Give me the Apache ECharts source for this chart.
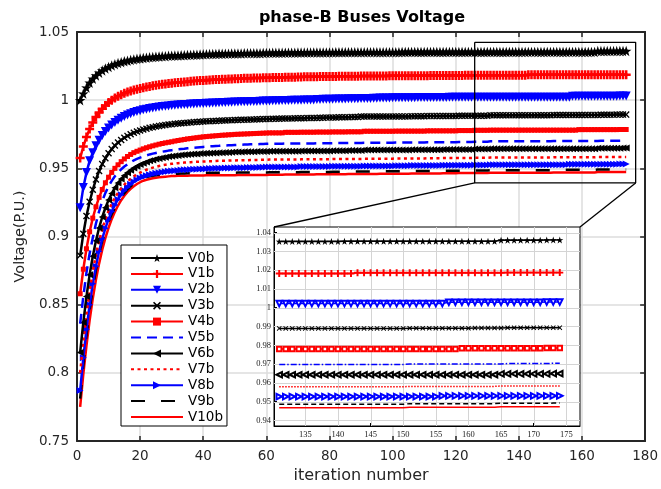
<!DOCTYPE html>
<html><head><meta charset="utf-8">
<script src="https://cdn.jsdelivr.net/npm/echarts@6/dist/echarts.min.js"></script>
<style>html,body{margin:0;padding:0;background:#fff}#c{width:661px;height:489px}</style>
</head><body><div id="c"></div>
<script>
// ---------------- data ----------------
const iterations = Array.from({length: 174}, (_, k) => k + 1);
const seriesNames = ['V0b','V1b','V2b','V3b','V4b','V5b','V6b','V7b','V8b','V9b','V10b'];

const V0b = [
1.0000,1.0048,1.0092,1.0128,1.0157,1.0181,1.0201,1.0218,1.0232,1.0244,
1.0255,1.0264,1.0272,1.0279,1.0285,1.0290,1.0295,1.0299,1.0303,1.0306,
1.0309,1.0312,1.0314,1.0316,1.0318,1.0320,1.0322,1.0323,1.0325,1.0326,
1.0327,1.0328,1.0329,1.0330,1.0331,1.0332,1.0333,1.0334,1.0335,1.0336,
1.0337,1.0338,1.0338,1.0339,1.0340,1.0340,1.0341,1.0341,1.0342,1.0342,
1.0343,1.0343,1.0344,1.0344,1.0344,1.0345,1.0345,1.0345,1.0346,1.0346,
1.0346,1.0347,1.0347,1.0347,1.0347,1.0348,1.0348,1.0348,1.0348,1.0349,
1.0349,1.0349,1.0349,1.0349,1.0350,1.0350,1.0350,1.0350,1.0350,1.0350,
1.0350,1.0351,1.0351,1.0351,1.0351,1.0351,1.0351,1.0351,1.0352,1.0352,
1.0352,1.0352,1.0352,1.0352,1.0352,1.0352,1.0352,1.0352,1.0352,1.0352,
1.0352,1.0352,1.0353,1.0353,1.0353,1.0353,1.0353,1.0353,1.0353,1.0353,
1.0353,1.0353,1.0353,1.0353,1.0353,1.0353,1.0353,1.0353,1.0353,1.0353,
1.0353,1.0353,1.0353,1.0353,1.0353,1.0353,1.0353,1.0353,1.0353,1.0353,
1.0353,1.0353,1.0353,1.0353,1.0353,1.0353,1.0353,1.0353,1.0353,1.0353,
1.0354,1.0354,1.0354,1.0354,1.0354,1.0354,1.0354,1.0354,1.0354,1.0354,
1.0354,1.0354,1.0354,1.0354,1.0354,1.0354,1.0354,1.0354,1.0354,1.0354,
1.0354,1.0354,1.0354,1.0354,1.0360,1.0360,1.0360,1.0360,1.0360,1.0360,
1.0360,1.0361,1.0361,1.0361];

const V1b = [
0.9575,0.9660,0.9730,0.9788,0.9836,0.9876,0.9909,0.9937,0.9961,0.9982,
1.0000,1.0015,1.0028,1.0040,1.0050,1.0059,1.0067,1.0074,1.0080,1.0086,
1.0091,1.0096,1.0101,1.0105,1.0109,1.0113,1.0116,1.0119,1.0122,1.0125,
1.0127,1.0130,1.0132,1.0134,1.0136,1.0138,1.0140,1.0142,1.0144,1.0145,
1.0147,1.0148,1.0149,1.0151,1.0152,1.0153,1.0154,1.0155,1.0156,1.0157,
1.0158,1.0159,1.0160,1.0160,1.0161,1.0162,1.0163,1.0163,1.0164,1.0165,
1.0165,1.0166,1.0166,1.0167,1.0167,1.0168,1.0168,1.0169,1.0169,1.0170,
1.0170,1.0171,1.0171,1.0171,1.0172,1.0172,1.0173,1.0173,1.0173,1.0174,
1.0174,1.0174,1.0175,1.0175,1.0175,1.0176,1.0176,1.0176,1.0176,1.0177,
1.0177,1.0177,1.0177,1.0178,1.0178,1.0178,1.0178,1.0178,1.0179,1.0179,
1.0179,1.0179,1.0179,1.0179,1.0180,1.0180,1.0180,1.0180,1.0180,1.0180,
1.0180,1.0181,1.0181,1.0181,1.0181,1.0181,1.0181,1.0181,1.0181,1.0181,
1.0181,1.0181,1.0182,1.0182,1.0182,1.0182,1.0182,1.0182,1.0182,1.0182,
1.0182,1.0182,1.0182,1.0182,1.0182,1.0182,1.0182,1.0182,1.0182,1.0182,
1.0182,1.0182,1.0186,1.0186,1.0186,1.0186,1.0186,1.0186,1.0186,1.0186,
1.0186,1.0186,1.0186,1.0186,1.0186,1.0186,1.0186,1.0186,1.0186,1.0186,
1.0186,1.0186,1.0186,1.0186,1.0186,1.0187,1.0187,1.0187,1.0187,1.0187,
1.0187,1.0187,1.0187,1.0187];

const V2b = [
0.9210,0.9360,0.9470,0.9555,0.9615,0.9665,0.9706,0.9741,0.9771,0.9796,
0.9818,0.9837,0.9853,0.9867,0.9880,0.9891,0.9900,0.9909,0.9916,0.9923,
0.9929,0.9934,0.9939,0.9943,0.9947,0.9950,0.9953,0.9956,0.9958,0.9960,
0.9962,0.9964,0.9966,0.9968,0.9969,0.9971,0.9972,0.9973,0.9975,0.9976,
0.9977,0.9978,0.9979,0.9980,0.9981,0.9982,0.9983,0.9984,0.9985,0.9986,
0.9987,0.9988,0.9988,0.9989,0.9990,0.9991,0.9991,0.9992,0.9993,0.9994,
0.9994,0.9995,0.9996,0.9996,0.9997,0.9998,0.9998,0.9999,0.9999,1.0000,
1.0000,1.0001,1.0001,1.0002,1.0002,1.0005,1.0005,1.0006,1.0006,1.0007,
1.0007,1.0008,1.0008,1.0009,1.0009,1.0010,1.0010,1.0011,1.0011,1.0012,
1.0012,1.0013,1.0013,1.0014,1.0014,1.0015,1.0015,1.0016,1.0016,1.0017,
1.0017,1.0017,1.0017,1.0018,1.0018,1.0018,1.0018,1.0019,1.0019,1.0019,
1.0019,1.0019,1.0019,1.0020,1.0020,1.0020,1.0020,1.0021,1.0021,1.0021,
1.0021,1.0021,1.0021,1.0021,1.0021,1.0022,1.0022,1.0022,1.0022,1.0022,
1.0022,1.0022,1.0022,1.0022,1.0022,1.0022,1.0022,1.0022,1.0022,1.0022,
1.0022,1.0022,1.0022,1.0022,1.0022,1.0022,1.0022,1.0022,1.0022,1.0022,
1.0022,1.0022,1.0022,1.0022,1.0022,1.0022,1.0029,1.0029,1.0029,1.0029,
1.0029,1.0029,1.0029,1.0029,1.0029,1.0029,1.0029,1.0029,1.0029,1.0029,
1.0029,1.0030,1.0030,1.0030];

const V3b = [
0.8860,0.9020,0.9150,0.9255,0.9343,0.9418,0.9480,0.9531,0.9574,0.9610,
0.9641,0.9667,0.9689,0.9708,0.9724,0.9738,0.9750,0.9761,0.9770,0.9778,
0.9785,0.9791,0.9797,0.9802,0.9807,0.9811,0.9815,0.9818,0.9821,0.9824,
0.9827,0.9829,0.9831,0.9833,0.9835,0.9837,0.9839,0.9840,0.9842,0.9843,
0.9845,0.9846,0.9847,0.9848,0.9849,0.9850,0.9851,0.9852,0.9853,0.9854,
0.9855,0.9856,0.9857,0.9857,0.9858,0.9859,0.9860,0.9860,0.9861,0.9862,
0.9862,0.9863,0.9864,0.9864,0.9865,0.9865,0.9866,0.9866,0.9867,0.9867,
0.9868,0.9868,0.9869,0.9869,0.9870,0.9870,0.9871,0.9871,0.9872,0.9872,
0.9873,0.9873,0.9874,0.9874,0.9875,0.9875,0.9876,0.9876,0.9877,0.9880,
0.9880,0.9880,0.9880,0.9880,0.9880,0.9880,0.9880,0.9880,0.9880,0.9880,
0.9881,0.9881,0.9881,0.9881,0.9881,0.9882,0.9882,0.9882,0.9882,0.9882,
0.9883,0.9883,0.9883,0.9883,0.9883,0.9884,0.9884,0.9884,0.9884,0.9884,
0.9885,0.9885,0.9885,0.9885,0.9885,0.9886,0.9886,0.9886,0.9886,0.9886,
0.9890,0.9890,0.9890,0.9890,0.9890,0.9890,0.9890,0.9890,0.9890,0.9890,
0.9890,0.9890,0.9890,0.9890,0.9890,0.9890,0.9890,0.9890,0.9890,0.9890,
0.9891,0.9891,0.9891,0.9891,0.9891,0.9891,0.9891,0.9891,0.9891,0.9891,
0.9892,0.9892,0.9892,0.9892,0.9892,0.9893,0.9893,0.9893,0.9893,0.9893,
0.9894,0.9894,0.9894,0.9894];

const V4b = [
0.8580,0.8760,0.8910,0.9035,0.9135,0.9218,0.9287,0.9345,0.9394,0.9435,
0.9470,0.9500,0.9526,0.9549,0.9569,0.9587,0.9602,0.9615,0.9625,0.9634,
0.9643,0.9651,0.9658,0.9665,0.9671,0.9677,0.9682,0.9687,0.9691,0.9695,
0.9700,0.9704,0.9708,0.9712,0.9716,0.9719,0.9722,0.9725,0.9728,0.9731,
0.9733,0.9735,0.9737,0.9739,0.9741,0.9743,0.9744,0.9746,0.9747,0.9749,
0.9750,0.9751,0.9752,0.9753,0.9754,0.9755,0.9756,0.9757,0.9758,0.9759,
0.9760,0.9760,0.9760,0.9760,0.9760,0.9764,0.9764,0.9764,0.9764,0.9764,
0.9765,0.9765,0.9765,0.9765,0.9765,0.9766,0.9766,0.9766,0.9766,0.9766,
0.9767,0.9767,0.9767,0.9767,0.9767,0.9768,0.9768,0.9768,0.9768,0.9768,
0.9772,0.9772,0.9772,0.9772,0.9772,0.9772,0.9772,0.9772,0.9772,0.9772,
0.9773,0.9773,0.9773,0.9773,0.9773,0.9773,0.9773,0.9773,0.9773,0.9773,
0.9775,0.9775,0.9775,0.9775,0.9775,0.9775,0.9775,0.9775,0.9775,0.9775,
0.9777,0.9777,0.9777,0.9777,0.9777,0.9779,0.9779,0.9779,0.9779,0.9779,
0.9780,0.9780,0.9780,0.9780,0.9780,0.9780,0.9780,0.9780,0.9780,0.9780,
0.9780,0.9780,0.9780,0.9780,0.9780,0.9780,0.9780,0.9780,0.9780,0.9780,
0.9780,0.9780,0.9780,0.9780,0.9780,0.9780,0.9780,0.9780,0.9784,0.9784,
0.9784,0.9784,0.9784,0.9784,0.9784,0.9784,0.9784,0.9784,0.9784,0.9784,
0.9784,0.9785,0.9785,0.9785];

const V5b = [
0.8360,0.8560,0.8735,0.8875,0.8990,0.9095,0.9185,0.9260,0.9320,0.9368,
0.9408,0.9442,0.9470,0.9493,0.9513,0.9530,0.9545,0.9558,0.9569,0.9579,
0.9587,0.9595,0.9602,0.9608,0.9613,0.9618,0.9622,0.9626,0.9630,0.9633,
0.9636,0.9639,0.9642,0.9644,0.9647,0.9649,0.9651,0.9653,0.9655,0.9657,
0.9659,0.9661,0.9662,0.9664,0.9665,0.9667,0.9668,0.9669,0.9670,0.9671,
0.9672,0.9673,0.9674,0.9675,0.9676,0.9677,0.9677,0.9678,0.9679,0.9680,
0.9681,0.9681,0.9681,0.9681,0.9681,0.9682,0.9682,0.9682,0.9682,0.9682,
0.9683,0.9683,0.9683,0.9683,0.9683,0.9684,0.9684,0.9684,0.9684,0.9684,
0.9685,0.9685,0.9685,0.9685,0.9685,0.9686,0.9686,0.9686,0.9686,0.9686,
0.9687,0.9687,0.9687,0.9687,0.9687,0.9688,0.9688,0.9688,0.9688,0.9688,
0.9689,0.9689,0.9689,0.9689,0.9689,0.9690,0.9690,0.9690,0.9690,0.9690,
0.9691,0.9691,0.9691,0.9691,0.9691,0.9692,0.9692,0.9692,0.9692,0.9692,
0.9693,0.9693,0.9693,0.9693,0.9693,0.9695,0.9695,0.9695,0.9695,0.9695,
0.9698,0.9698,0.9698,0.9698,0.9698,0.9698,0.9698,0.9698,0.9698,0.9698,
0.9698,0.9698,0.9698,0.9698,0.9698,0.9698,0.9698,0.9698,0.9698,0.9698,
0.9700,0.9700,0.9700,0.9700,0.9700,0.9700,0.9700,0.9700,0.9700,0.9700,
0.9700,0.9700,0.9700,0.9700,0.9700,0.9703,0.9703,0.9703,0.9703,0.9703,
0.9703,0.9703,0.9704,0.9704];

const V6b = [
0.8150,0.8370,0.8560,0.8720,0.8855,0.8968,0.9063,0.9143,0.9211,0.9268,
0.9316,0.9357,0.9392,0.9422,0.9447,0.9468,0.9486,0.9502,0.9516,0.9528,
0.9538,0.9547,0.9555,0.9562,0.9568,0.9573,0.9578,0.9582,0.9586,0.9589,
0.9592,0.9595,0.9597,0.9599,0.9601,0.9603,0.9605,0.9606,0.9608,0.9609,
0.9610,0.9611,0.9612,0.9613,0.9614,0.9615,0.9616,0.9617,0.9618,0.9619,
0.9619,0.9620,0.9621,0.9621,0.9622,0.9622,0.9623,0.9623,0.9624,0.9624,
0.9625,0.9625,0.9625,0.9625,0.9625,0.9626,0.9626,0.9626,0.9626,0.9626,
0.9627,0.9627,0.9627,0.9627,0.9627,0.9628,0.9628,0.9628,0.9628,0.9628,
0.9629,0.9629,0.9629,0.9629,0.9629,0.9630,0.9630,0.9630,0.9630,0.9630,
0.9634,0.9634,0.9634,0.9634,0.9634,0.9634,0.9634,0.9634,0.9634,0.9634,
0.9635,0.9635,0.9635,0.9635,0.9635,0.9636,0.9636,0.9636,0.9636,0.9636,
0.9637,0.9637,0.9637,0.9637,0.9637,0.9638,0.9638,0.9638,0.9638,0.9638,
0.9639,0.9639,0.9639,0.9639,0.9639,0.9641,0.9641,0.9641,0.9641,0.9641,
0.9643,0.9643,0.9643,0.9643,0.9643,0.9643,0.9643,0.9643,0.9643,0.9643,
0.9643,0.9643,0.9643,0.9643,0.9643,0.9643,0.9643,0.9643,0.9643,0.9643,
0.9643,0.9643,0.9643,0.9643,0.9643,0.9643,0.9643,0.9643,0.9643,0.9643,
0.9643,0.9643,0.9643,0.9643,0.9648,0.9648,0.9648,0.9648,0.9648,0.9648,
0.9648,0.9648,0.9649,0.9649];

const V7b = [
0.8000,0.8230,0.8430,0.8600,0.8745,0.8866,0.8968,0.9054,0.9127,0.9189,
0.9241,0.9285,0.9322,0.9354,0.9381,0.9404,0.9424,0.9441,0.9456,0.9469,
0.9480,0.9490,0.9498,0.9505,0.9511,0.9517,0.9522,0.9526,0.9530,0.9533,
0.9536,0.9538,0.9540,0.9542,0.9544,0.9545,0.9547,0.9548,0.9549,0.9550,
0.9551,0.9552,0.9553,0.9554,0.9555,0.9556,0.9556,0.9557,0.9558,0.9558,
0.9559,0.9559,0.9560,0.9560,0.9561,0.9561,0.9562,0.9562,0.9563,0.9563,
0.9564,0.9564,0.9564,0.9564,0.9564,0.9565,0.9565,0.9565,0.9565,0.9565,
0.9566,0.9566,0.9566,0.9566,0.9566,0.9567,0.9567,0.9567,0.9567,0.9567,
0.9568,0.9568,0.9568,0.9568,0.9568,0.9569,0.9569,0.9569,0.9569,0.9569,
0.9570,0.9570,0.9570,0.9570,0.9570,0.9571,0.9571,0.9571,0.9571,0.9571,
0.9572,0.9572,0.9572,0.9572,0.9572,0.9573,0.9573,0.9573,0.9573,0.9573,
0.9574,0.9574,0.9574,0.9574,0.9574,0.9575,0.9575,0.9575,0.9575,0.9575,
0.9576,0.9576,0.9576,0.9576,0.9576,0.9577,0.9577,0.9577,0.9577,0.9577,
0.9579,0.9579,0.9579,0.9579,0.9579,0.9579,0.9579,0.9579,0.9579,0.9579,
0.9579,0.9579,0.9579,0.9579,0.9579,0.9579,0.9579,0.9579,0.9579,0.9579,
0.9581,0.9581,0.9581,0.9581,0.9581,0.9581,0.9581,0.9581,0.9581,0.9581,
0.9581,0.9581,0.9581,0.9581,0.9583,0.9583,0.9583,0.9583,0.9583,0.9583,
0.9583,0.9583,0.9583,0.9583];

const V8b = [
0.7870,0.8110,0.8320,0.8500,0.8653,0.8782,0.8891,0.8983,0.9061,0.9127,
0.9183,0.9231,0.9272,0.9307,0.9337,0.9362,0.9383,0.9401,0.9416,0.9429,
0.9438,0.9446,0.9453,0.9459,0.9464,0.9468,0.9472,0.9475,0.9478,0.9481,
0.9483,0.9485,0.9487,0.9489,0.9490,0.9492,0.9493,0.9494,0.9495,0.9496,
0.9497,0.9498,0.9499,0.9500,0.9501,0.9501,0.9502,0.9503,0.9503,0.9504,
0.9504,0.9505,0.9505,0.9506,0.9506,0.9507,0.9507,0.9508,0.9508,0.9509,
0.9509,0.9509,0.9509,0.9509,0.9509,0.9510,0.9510,0.9510,0.9510,0.9510,
0.9514,0.9514,0.9514,0.9514,0.9514,0.9514,0.9514,0.9514,0.9514,0.9514,
0.9515,0.9515,0.9515,0.9515,0.9515,0.9516,0.9516,0.9516,0.9516,0.9516,
0.9517,0.9517,0.9517,0.9517,0.9517,0.9518,0.9518,0.9518,0.9518,0.9518,
0.9519,0.9519,0.9519,0.9519,0.9519,0.9520,0.9520,0.9520,0.9520,0.9520,
0.9521,0.9521,0.9521,0.9521,0.9521,0.9522,0.9522,0.9522,0.9522,0.9522,
0.9523,0.9523,0.9523,0.9523,0.9523,0.9524,0.9524,0.9524,0.9524,0.9524,
0.9527,0.9527,0.9527,0.9527,0.9527,0.9527,0.9527,0.9527,0.9527,0.9527,
0.9527,0.9527,0.9527,0.9527,0.9527,0.9527,0.9527,0.9527,0.9527,0.9527,
0.9527,0.9527,0.9527,0.9527,0.9527,0.9530,0.9530,0.9530,0.9530,0.9530,
0.9530,0.9530,0.9530,0.9530,0.9530,0.9530,0.9530,0.9530,0.9530,0.9530,
0.9530,0.9531,0.9531,0.9531];

const V9b = [
0.7810,0.8060,0.8275,0.8460,0.8620,0.8755,0.8870,0.8967,0.9045,0.9110,
0.9163,0.9210,0.9251,0.9287,0.9318,0.9345,0.9368,0.9388,0.9405,0.9420,
0.9430,0.9437,0.9442,0.9446,0.9449,0.9452,0.9454,0.9456,0.9458,0.9459,
0.9460,0.9461,0.9462,0.9463,0.9464,0.9464,0.9465,0.9465,0.9466,0.9466,
0.9467,0.9467,0.9467,0.9467,0.9467,0.9468,0.9468,0.9468,0.9468,0.9468,
0.9469,0.9469,0.9469,0.9469,0.9469,0.9470,0.9470,0.9470,0.9470,0.9470,
0.9471,0.9471,0.9471,0.9471,0.9471,0.9472,0.9472,0.9472,0.9472,0.9472,
0.9473,0.9473,0.9473,0.9473,0.9473,0.9474,0.9474,0.9474,0.9474,0.9474,
0.9475,0.9475,0.9475,0.9475,0.9475,0.9476,0.9476,0.9476,0.9476,0.9476,
0.9477,0.9477,0.9477,0.9477,0.9477,0.9478,0.9478,0.9478,0.9478,0.9478,
0.9479,0.9479,0.9479,0.9479,0.9479,0.9480,0.9480,0.9480,0.9480,0.9480,
0.9481,0.9481,0.9481,0.9481,0.9481,0.9482,0.9482,0.9482,0.9482,0.9482,
0.9483,0.9483,0.9483,0.9483,0.9483,0.9484,0.9484,0.9484,0.9484,0.9484,
0.9486,0.9486,0.9486,0.9486,0.9486,0.9486,0.9486,0.9486,0.9486,0.9486,
0.9486,0.9486,0.9486,0.9486,0.9486,0.9486,0.9486,0.9486,0.9486,0.9486,
0.9489,0.9489,0.9489,0.9489,0.9489,0.9489,0.9489,0.9489,0.9489,0.9489,
0.9489,0.9489,0.9489,0.9489,0.9491,0.9491,0.9491,0.9491,0.9491,0.9491,
0.9491,0.9491,0.9492,0.9492];

const V10b = [
0.7750,0.7990,0.8200,0.8385,0.8545,0.8683,0.8801,0.8903,0.8990,0.9064,
0.9127,0.9181,0.9227,0.9266,0.9299,0.9327,0.9350,0.9369,0.9385,0.9398,
0.9409,0.9416,0.9422,0.9427,0.9431,0.9434,0.9437,0.9439,0.9441,0.9443,
0.9444,0.9445,0.9445,0.9446,0.9446,0.9447,0.9447,0.9447,0.9448,0.9448,
0.9449,0.9449,0.9449,0.9449,0.9449,0.9450,0.9450,0.9450,0.9450,0.9450,
0.9451,0.9451,0.9451,0.9451,0.9451,0.9452,0.9452,0.9452,0.9452,0.9452,
0.9453,0.9453,0.9453,0.9453,0.9453,0.9454,0.9454,0.9454,0.9454,0.9454,
0.9455,0.9455,0.9455,0.9455,0.9455,0.9456,0.9456,0.9456,0.9456,0.9456,
0.9457,0.9457,0.9457,0.9457,0.9457,0.9458,0.9458,0.9458,0.9458,0.9458,
0.9459,0.9459,0.9459,0.9459,0.9459,0.9460,0.9460,0.9460,0.9460,0.9460,
0.9461,0.9461,0.9461,0.9461,0.9461,0.9462,0.9462,0.9462,0.9462,0.9462,
0.9463,0.9463,0.9463,0.9463,0.9463,0.9464,0.9464,0.9464,0.9464,0.9464,
0.9465,0.9465,0.9465,0.9465,0.9465,0.9466,0.9466,0.9466,0.9466,0.9466,
0.9467,0.9467,0.9467,0.9467,0.9467,0.9467,0.9467,0.9467,0.9467,0.9467,
0.9467,0.9467,0.9467,0.9467,0.9467,0.9467,0.9467,0.9467,0.9467,0.9467,
0.9470,0.9470,0.9470,0.9470,0.9470,0.9470,0.9470,0.9470,0.9470,0.9470,
0.9470,0.9470,0.9470,0.9470,0.9473,0.9473,0.9473,0.9473,0.9473,0.9473,
0.9473,0.9473,0.9473,0.9473];

const allValues = [V0b, V1b, V2b, V3b, V4b, V5b, V6b, V7b, V8b, V9b, V10b];

// axis ticks / ranges
const mainXRange = [0, 180];
const mainYRange = [0.75, 1.05];
const insetXTicks = [135, 140, 145, 150, 155, 160, 165, 170, 175];
const insetYTicks = [0.94, 0.95, 0.96, 0.97, 0.98, 0.99, 1, 1.01, 1.02, 1.03, 1.04];
const insetXRange = [130.2, 177.1];
const insetYRange = [0.937, 1.043];
const insetFirstIter = 131;
// zoom box (data coordinates of the main axes)
const zoomBoxX = [126, 177];
const zoomBoxY = [0.9393, 1.0424];

// ---------------- styles ----------------
const STAR = 'path://M50,0 L61.8,35.1 L97.6,34.5 L69,56.9 L79.4,90.9 L50,70 L20.6,90.9 L31,56.9 L2.4,34.5 L38.2,35.1 Z';
const PLUS = 'path://M36,0 H64 V36 H100 V64 H64 V100 H36 V64 H0 V36 H36 Z';
const CROSS = 'path://M14,0 L50,36 L86,0 L100,14 L64,50 L100,86 L86,100 L50,64 L14,100 L0,86 L36,50 L0,14 Z';
const styles = [
  {color:'#000000', symbol:STAR, size:10.5, inSymbol:STAR, inSize:7},
  {color:'#ff0000', symbol:PLUS, size:9, inSymbol:PLUS, inSize:7},
  {color:'#0000ff', symbol:'triangle', rotate:180, size:9, inSymbol:'emptyTriangle', inSize:5.5},
  {color:'#000000', symbol:CROSS, size:7, inSymbol:CROSS, inSize:5},
  {color:'#ff0000', symbol:'rect', size:5, inSymbol:'emptyRect', inSize:4.5},
  {color:'#0000ff', symbol:'none', type:[10,6], inType:[6,2,1.5,2]},
  {color:'#000000', symbol:'triangle', rotate:90, size:7, inSymbol:'emptyTriangle', inSize:5.5},
  {color:'#ff0000', symbol:'none', type:[3,3.5], inType:[1.5,1.5]},
  {color:'#0000ff', symbol:'triangle', rotate:-90, size:7, inSymbol:'emptyTriangle', inSize:5.5},
  {color:'#000000', symbol:'none', type:[14,16], inType:[5,3]},
  {color:'#ff0000', symbol:'none'}
];

const AX = '#262626';
const GRIDC = '#dcdcdc';
const INSET_GRIDC = '#d4d4d4';
const FONT = 'DejaVu Sans';

const series = [];
seriesNames.forEach((name, s) => {
  const st = styles[s];
  const pts = allValues[s].map((v, k) => [iterations[k], v]);
  series.push({
    name, type: 'line', xAxisIndex: 0, yAxisIndex: 0, data: pts,
    symbol: st.symbol, symbolSize: st.size || 4, symbolRotate: st.rotate || 0,
    showSymbol: st.symbol !== 'none', showAllSymbol: true, sampling: null,
    lineStyle: {color: st.color, width: 2.5, type: st.type || 'solid'},
    itemStyle: {color: st.color},
    z: 3 + (10 - s) * 0.01, silent: true, animation: false
  });
});
seriesNames.forEach((name, s) => {
  const st = styles[s];
  const pts = allValues[s].map((v, k) => [iterations[k], v]).filter(p => p[0] >= insetFirstIter);
  series.push({
    name, type: 'line', xAxisIndex: 2, yAxisIndex: 2, data: pts,
    symbol: st.inSymbol || 'none', symbolSize: st.inSize || 4, symbolRotate: st.rotate || 0,
    showSymbol: !!st.inSymbol, showAllSymbol: true,
    lineStyle: {color: st.color, width: 1.5, type: st.inType || 'solid'},
    itemStyle: {color: st.color, borderWidth: 1},
    z: 13, silent: true, animation: false, clip: true
  });
});
series.push({
  type: 'line', xAxisIndex: 0, yAxisIndex: 0, silent: true, symbol: 'none',
  data: [[zoomBoxX[0], zoomBoxY[1]], [zoomBoxX[1], zoomBoxY[1]], [zoomBoxX[1], zoomBoxY[0]], [zoomBoxX[0], zoomBoxY[0]], [zoomBoxX[0], zoomBoxY[1]]],
  lineStyle: {color: '#000', width: 1.3}, z: 6, animation: false
});

const mainAxisCommon = {
  type: 'value', axisLine: {show: true, onZero: false, lineStyle: {color: AX, width: 2}},
  axisTick: {show: true, inside: true, length: 5, lineStyle: {color: AX, width: 1.5}},
};

const noMarker = {color: 'rgba(0,0,0,0)', borderColor: 'rgba(0,0,0,0)', opacity: 0};
const legendData = seriesNames.map((n, s) => styles[s].symbol === 'none' ? {name: n, itemStyle: noMarker} : {name: n});

const option = {
  animation: false,
  backgroundColor: '#ffffff',
  title: {
    text: 'phase-B Buses Voltage', left: 362, top: 10, textAlign: 'center', padding: 0,
    textStyle: {fontFamily: FONT, fontWeight: 'bold', fontSize: 16, color: '#000'}
  },
  legend: {
    data: legendData, orient: 'vertical', left: 121, top: 245,
    itemWidth: 52, itemHeight: 10, itemGap: 1.9, padding: [6, 4, 2, 9],
    backgroundColor: '#fff', borderColor: '#000', borderWidth: 1, borderRadius: 0,
    selectedMode: false, z: 20,
    textStyle: {fontFamily: FONT, fontSize: 13.5, color: '#000', lineHeight: 14}
  },
  grid: [
    {left: 77, top: 32, width: 570, height: 411, show: false},
    {left: 274, top: 227, width: 306, height: 199, show: true, backgroundColor: '#fff', borderColor: '#000', borderWidth: 1, z: 10}
  ],
  xAxis: [
    Object.assign({}, mainAxisCommon, {gridIndex: 0, position: 'bottom', min: mainXRange[0], max: mainXRange[1], interval: 20,
      name: 'iteration number', nameLocation: 'middle', nameGap: 27,
      nameTextStyle: {fontFamily: FONT, fontSize: 16, color: AX},
      axisLabel: {fontFamily: FONT, fontSize: 13.5, color: AX, margin: 8},
      splitLine: {show: true, lineStyle: {color: GRIDC, width: 1.5}}}),
    Object.assign({}, mainAxisCommon, {gridIndex: 0, position: 'top', min: mainXRange[0], max: mainXRange[1], interval: 20,
      axisLabel: {show: false}, splitLine: {show: false}}),
    {gridIndex: 1, type: 'value', min: insetXRange[0], max: insetXRange[1], z: 11,
      axisLine: {show: true, onZero: false, lineStyle: {color: '#000', width: 1}},
      axisTick: {show: true, inside: true, length: 3, customValues: insetXTicks, lineStyle: {color: '#000'}},
      axisLabel: {customValues: insetXTicks, fontFamily: 'Liberation Serif', fontSize: 8.5, color: '#222', margin: 4},
      splitLine: {show: false}}
  ],
  yAxis: [
    Object.assign({}, mainAxisCommon, {gridIndex: 0, position: 'left', min: mainYRange[0], max: mainYRange[1], interval: 0.05,
      name: 'Voltage(P.U.)', nameLocation: 'middle', nameRotate: 90, nameGap: 46,
      nameTextStyle: {fontFamily: FONT, fontSize: 14.5, color: AX},
      axisLabel: {fontFamily: FONT, fontSize: 13.5, color: AX, margin: 8},
      splitLine: {show: true, lineStyle: {color: GRIDC, width: 1.5}}}),
    Object.assign({}, mainAxisCommon, {gridIndex: 0, position: 'right', min: mainYRange[0], max: mainYRange[1], interval: 0.05,
      axisLabel: {show: false}, splitLine: {show: false}}),
    {gridIndex: 1, type: 'value', min: insetYRange[0], max: insetYRange[1], z: 11,
      axisLine: {show: true, onZero: false, lineStyle: {color: '#000', width: 1}},
      axisTick: {show: true, inside: true, length: 3, customValues: insetYTicks, lineStyle: {color: '#000'}},
      axisLabel: {customValues: insetYTicks, fontFamily: 'Liberation Serif', fontSize: 8.5, color: '#222', margin: 3},
      splitLine: {show: false}}
  ],
  series
};

const chart = echarts.init(document.getElementById('c'), null, {renderer: 'canvas'});
chart.setOption(option);

// positions computed by the axes
const toMain = p => chart.convertToPixel({xAxisIndex: 0, yAxisIndex: 0}, p);
const toInset = p => chart.convertToPixel({xAxisIndex: 2, yAxisIndex: 2}, p);
const pBL = toMain([zoomBoxX[0], zoomBoxY[0]]);
const pBR = toMain([zoomBoxX[1], zoomBoxY[0]]);
const qTL = toInset([insetXRange[0], insetYRange[1]]);
const qTR = toInset([insetXRange[1], insetYRange[1]]);
const qBR = toInset([insetXRange[1], insetYRange[0]]);
const gridGraphics = [];
insetXTicks.forEach(v => {
  const x = Math.round(toInset([v, insetYRange[0]])[0]) + 0.5;
  gridGraphics.push({type: 'line', z: 12, silent: true, shape: {x1: x, y1: qTL[1], x2: x, y2: qBR[1]}, style: {stroke: INSET_GRIDC, lineWidth: 1}});
});
insetYTicks.forEach(v => {
  const y = Math.round(toInset([insetXRange[0], v])[1]) + 0.5;
  gridGraphics.push({type: 'line', z: 12, silent: true, shape: {x1: qTL[0], y1: y, x2: qBR[0], y2: y}, style: {stroke: INSET_GRIDC, lineWidth: 1}});
});
chart.setOption({graphic: gridGraphics.concat([
  {type: 'line', z: 30, silent: true, shape: {x1: pBL[0], y1: pBL[1], x2: qTL[0], y2: qTL[1]}, style: {stroke: '#000', lineWidth: 1.3}},
  {type: 'line', z: 30, silent: true, shape: {x1: pBR[0], y1: pBR[1], x2: qTR[0], y2: qTR[1]}, style: {stroke: '#000', lineWidth: 1.3}}
])});
</script>
</body></html>
